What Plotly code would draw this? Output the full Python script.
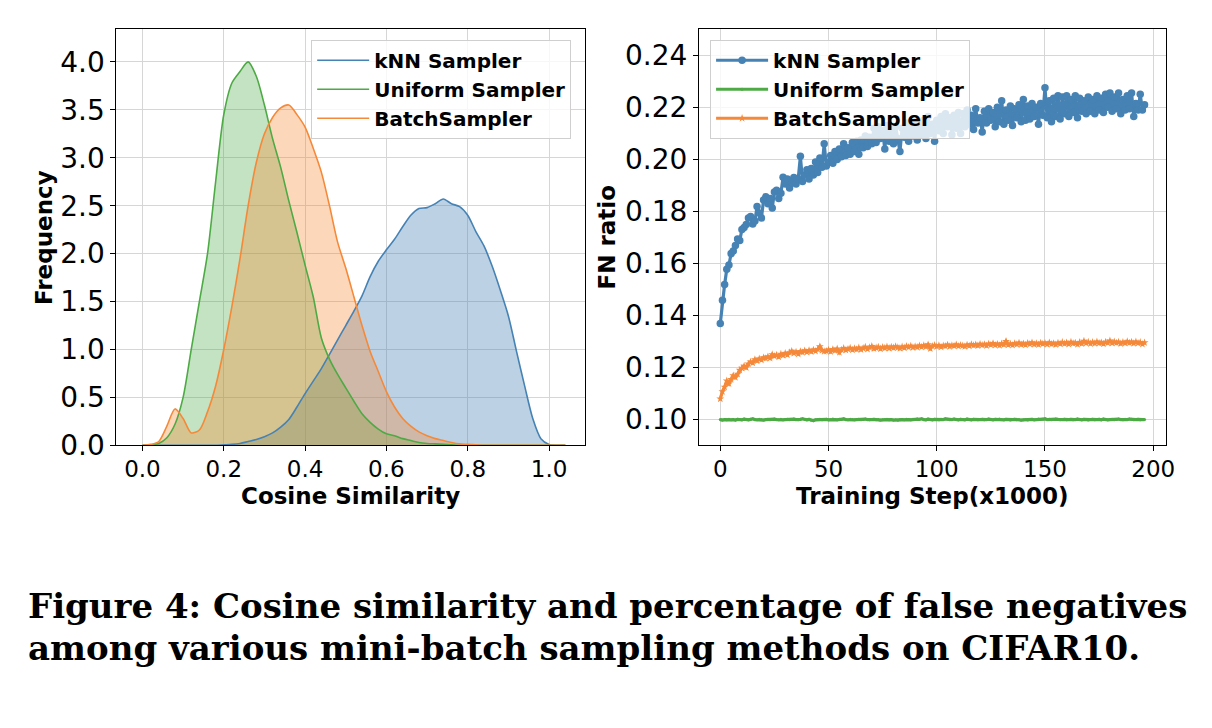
import plotly.graph_objects as go

# ---------------- Left panel: cosine similarity distributions ----------------
COS_X = [0.00, 0.02, 0.04, 0.06, 0.08, 0.10, 0.12, 0.14, 0.16, 0.18,
         0.20, 0.22, 0.24, 0.26, 0.28, 0.30, 0.32, 0.34, 0.36, 0.38,
         0.40, 0.42, 0.44, 0.46, 0.48, 0.50, 0.52, 0.54, 0.56, 0.58,
         0.60, 0.62, 0.64, 0.66, 0.68, 0.70, 0.72, 0.74, 0.76, 0.78,
         0.80, 0.82, 0.84, 0.86, 0.88, 0.90, 0.92, 0.94, 0.96, 0.98,
         1.00, 1.02, 1.04]

KNN_DENS = [0, 0, 0, 0, 0, 0, 0, 0, 0, 0,
            0.005, 0.01, 0.02, 0.04, 0.06, 0.09, 0.13, 0.19, 0.27, 0.40,
            0.54, 0.67, 0.80, 0.95, 1.10, 1.25, 1.40, 1.56, 1.76, 1.92,
            2.04, 2.15, 2.28, 2.40, 2.47, 2.48, 2.52, 2.57, 2.52, 2.49,
            2.40, 2.23, 2.08, 1.87, 1.62, 1.35, 0.98, 0.62, 0.28, 0.07,
            0.01, 0, 0]

UNIFORM_DENS = [0, 0.0, 0.02, 0.08, 0.22, 0.50, 1.00, 1.50, 2.00, 2.75,
                3.45, 3.78, 3.90, 4.00, 3.85, 3.55, 3.20, 2.90, 2.55, 2.22,
                1.88, 1.55, 1.12, 0.90, 0.74, 0.60, 0.46, 0.33, 0.24, 0.17,
                0.12, 0.10, 0.07, 0.05, 0.03, 0.02, 0.015, 0.01, 0.005, 0,
                0, 0, 0, 0, 0, 0, 0, 0, 0, 0,
                0, 0, 0]

BATCH_DENS = [0, 0.01, 0.04, 0.20, 0.38, 0.28, 0.13, 0.16, 0.35, 0.62,
              1.00, 1.45, 1.95, 2.50, 2.95, 3.25, 3.42, 3.52, 3.55, 3.45,
              3.32, 3.10, 2.85, 2.50, 2.12, 1.85, 1.55, 1.25, 0.98, 0.77,
              0.56, 0.40, 0.28, 0.20, 0.14, 0.10, 0.07, 0.05, 0.03, 0.015,
              0.01, 0.005, 0, 0, 0, 0, 0, 0, 0, 0,
              0, 0, 0]

# ---------------- Right panel: FN ratio over training ----------------
STEP_X = list(range(197))

KNN_FN = [0.1369, 0.1459, 0.1519, 0.1578, 0.1594, 0.1638, 0.1648, 0.1669, 0.1694, 0.1688,
          0.1731, 0.1738, 0.1750, 0.1775, 0.1781, 0.1752, 0.1763, 0.1819, 0.1794, 0.1775,
          0.1844, 0.1856, 0.1830, 0.1850, 0.1813, 0.1875, 0.1881, 0.1850, 0.1870, 0.1931,
          0.1905, 0.1925, 0.1890, 0.1910, 0.1930, 0.1905, 0.1925, 0.2012, 0.1915, 0.1940,
          0.1960, 0.1925, 0.1965, 0.1940, 0.1990, 0.1950, 0.2005, 0.1970, 0.2060, 0.1975,
          0.1990, 0.2015, 0.1985, 0.2030, 0.2000, 0.2040, 0.2010, 0.2060, 0.2015, 0.2045,
          0.2020, 0.2065, 0.2030, 0.2070, 0.2020, 0.2075, 0.2045, 0.2090, 0.2050, 0.2085,
          0.2060, 0.2120, 0.2065, 0.2125, 0.2080, 0.2110, 0.2040, 0.2130, 0.2070, 0.2115,
          0.2060, 0.2125, 0.2080, 0.2030, 0.2120, 0.2085, 0.2140, 0.2070, 0.2130, 0.2090,
          0.2145, 0.2075, 0.2140, 0.2095, 0.2150, 0.2080, 0.2165, 0.2100, 0.2135, 0.2070,
          0.2150, 0.2110, 0.2165, 0.2100, 0.2175, 0.2125, 0.2160, 0.2095, 0.2170, 0.2120,
          0.2180, 0.2100, 0.2175, 0.2125, 0.2190, 0.2135, 0.2170, 0.2115, 0.2195, 0.2140,
          0.2160, 0.2105, 0.2185, 0.2140, 0.2195, 0.2150, 0.2180, 0.2125, 0.2200, 0.2145,
          0.2225, 0.2135, 0.2190, 0.2150, 0.2205, 0.2130, 0.2195, 0.2160, 0.2210, 0.2145,
          0.2230, 0.2150, 0.2205, 0.2155, 0.2215, 0.2165, 0.2200, 0.2135, 0.2215, 0.2170,
          0.2275, 0.2160, 0.2225, 0.2145, 0.2235, 0.2165, 0.2245, 0.2155, 0.2240, 0.2175,
          0.2245, 0.2165, 0.2230, 0.2180, 0.2245, 0.2160, 0.2235, 0.2185, 0.2225, 0.2175,
          0.2240, 0.2185, 0.2230, 0.2175, 0.2245, 0.2190, 0.2235, 0.2180, 0.2250, 0.2200,
          0.2255, 0.2185, 0.2240, 0.2195, 0.2255, 0.2175, 0.2230, 0.2190, 0.2245, 0.2195,
          0.2255, 0.2165, 0.2215, 0.2190, 0.2250, 0.2190, 0.2210]

UNIFORM_FN = [0.1000, 0.0998, 0.1000, 0.0999, 0.1001, 0.0999, 0.1000, 0.0998, 0.1001, 0.1000,
              0.0999, 0.1002, 0.1000, 0.0999, 0.1001, 0.1003, 0.1000, 0.0999, 0.1001, 0.1000,
              0.0998, 0.1000, 0.1001, 0.0999, 0.1000, 0.1002, 0.1000, 0.0999, 0.1001, 0.0999,
              0.1000, 0.1001, 0.0999, 0.1000, 0.1002, 0.1000, 0.0999, 0.1001, 0.1003, 0.1000,
              0.0999, 0.1001, 0.0997, 0.0996, 0.0999, 0.1000, 0.1001, 0.0999, 0.1000, 0.1001,
              0.0999, 0.1000, 0.1002, 0.1000, 0.0999, 0.1001, 0.1000, 0.1003, 0.1000, 0.0999,
              0.1001, 0.1000, 0.0999, 0.1000, 0.1001, 0.0999, 0.1000, 0.1002, 0.1000, 0.0999,
              0.1000, 0.1001, 0.0999, 0.1000, 0.0998, 0.0999, 0.1000, 0.1001, 0.0999, 0.1000,
              0.0998, 0.0999, 0.0997, 0.0999, 0.1000, 0.0999, 0.1001, 0.1000, 0.0999, 0.1001,
              0.1000, 0.1002, 0.1001, 0.1003, 0.1000, 0.0999, 0.1002, 0.1000, 0.0999, 0.1001,
              0.1000, 0.0999, 0.1001, 0.1000, 0.1003, 0.1001, 0.0999, 0.1000, 0.1002, 0.1000,
              0.0999, 0.1001, 0.1000, 0.0999, 0.1002, 0.1000, 0.0999, 0.1001, 0.1000, 0.0999,
              0.1000, 0.1001, 0.0999, 0.1000, 0.1002, 0.1000, 0.0999, 0.1001, 0.1000, 0.1002,
              0.1000, 0.0999, 0.1001, 0.1000, 0.0998, 0.1000, 0.1001, 0.0999, 0.1000, 0.0998,
              0.0999, 0.1000, 0.0998, 0.1000, 0.1001, 0.0999, 0.1000, 0.1002, 0.1000, 0.1001,
              0.1003, 0.1000, 0.1001, 0.0999, 0.1000, 0.1002, 0.1001, 0.0999, 0.1000, 0.1001,
              0.0999, 0.1000, 0.1001, 0.0999, 0.1000, 0.1002, 0.1000, 0.0999, 0.1001, 0.1000,
              0.0998, 0.1000, 0.1001, 0.0999, 0.1000, 0.1001, 0.0999, 0.1002, 0.1000, 0.0999,
              0.1000, 0.1001, 0.0999, 0.1000, 0.1002, 0.1000, 0.0999, 0.1001, 0.1000, 0.1002,
              0.1001, 0.0999, 0.1000, 0.1001, 0.0999, 0.1000, 0.1000]

BATCH_FN = [0.1080, 0.1108, 0.1125, 0.1149, 0.1138, 0.1155, 0.1169, 0.1162, 0.1175, 0.1190,
            0.1198, 0.1206, 0.1200, 0.1214, 0.1222, 0.1218, 0.1231, 0.1226, 0.1234, 0.1229,
            0.1238, 0.1235, 0.1242, 0.1236, 0.1250, 0.1244, 0.1248, 0.1241, 0.1252, 0.1247,
            0.1255, 0.1249, 0.1258, 0.1263, 0.1255, 0.1260, 0.1252, 0.1262, 0.1258, 0.1265,
            0.1259, 0.1266, 0.1261, 0.1268, 0.1263, 0.1270, 0.1281, 0.1266, 0.1262, 0.1263,
            0.1268, 0.1261, 0.1270, 0.1265, 0.1272, 0.1258, 0.1268, 0.1274, 0.1267, 0.1271,
            0.1275, 0.1268, 0.1273, 0.1270, 0.1276, 0.1269, 0.1274, 0.1279, 0.1271, 0.1277,
            0.1282, 0.1273, 0.1276, 0.1279, 0.1272, 0.1278, 0.1275, 0.1280, 0.1274, 0.1279,
            0.1276, 0.1281, 0.1277, 0.1274, 0.1280, 0.1276, 0.1282, 0.1278, 0.1283, 0.1277,
            0.1281, 0.1278, 0.1284, 0.1279, 0.1285, 0.1280, 0.1288, 0.1273, 0.1282, 0.1286,
            0.1281, 0.1285, 0.1279, 0.1284, 0.1282, 0.1287, 0.1281, 0.1285, 0.1283, 0.1288,
            0.1282, 0.1286, 0.1284, 0.1281, 0.1287, 0.1283, 0.1289, 0.1285, 0.1288, 0.1284,
            0.1290, 0.1286, 0.1289, 0.1284, 0.1291, 0.1287, 0.1293, 0.1286, 0.1290, 0.1285,
            0.1292, 0.1288, 0.1301, 0.1287, 0.1291, 0.1286, 0.1293, 0.1289, 0.1295, 0.1288,
            0.1292, 0.1287, 0.1294, 0.1290, 0.1296, 0.1289, 0.1293, 0.1288, 0.1295, 0.1291,
            0.1294, 0.1289, 0.1296, 0.1290, 0.1293, 0.1288, 0.1295, 0.1291, 0.1297, 0.1292,
            0.1296, 0.1290, 0.1298, 0.1293, 0.1295, 0.1289, 0.1297, 0.1292, 0.1302, 0.1294,
            0.1298, 0.1292, 0.1297, 0.1293, 0.1299, 0.1294, 0.1296, 0.1291, 0.1298, 0.1295,
            0.1303, 0.1294, 0.1299, 0.1295, 0.1298, 0.1292, 0.1297, 0.1294, 0.1300, 0.1295,
            0.1298, 0.1293, 0.1299, 0.1294, 0.1297, 0.1290, 0.1296]

SERIES_NAMES = ["kNN Sampler", "Uniform Sampler", "BatchSampler"]

COS_TICKS = [0.0, 0.2, 0.4, 0.6, 0.8, 1.0]
FREQ_TICKS = [0.0, 0.5, 1.0, 1.5, 2.0, 2.5, 3.0, 3.5, 4.0]
STEP_TICKS = [0, 50, 100, 150, 200]
FN_TICKS = [0.10, 0.12, 0.14, 0.16, 0.18, 0.20, 0.22, 0.24]

CAPTION_1 = "Figure 4: Cosine similarity and percentage of false negatives"
CAPTION_2 = "among various mini-batch sampling methods on CIFAR10."

# ---------------- styling ----------------
W, H = 1212, 728
BLUE, GREEN, ORANGE = "#4682b4", "#4daa45", "#f5893a"
FILLS = ["rgba(70,130,180,0.36)", "rgba(77,170,69,0.33)", "rgba(250,130,40,0.32)"]
LINES = [BLUE, GREEN, ORANGE]
GROUPS = ["g1", "g2", "g3"]
SANS = "DejaVu Sans"

fig = go.Figure()

dens = [KNN_DENS, UNIFORM_DENS, BATCH_DENS]
# histogram-like filled areas
for d, fc in zip(dens, FILLS):
    fig.add_trace(go.Scatter(x=COS_X, y=d, mode="lines", fill="tozeroy", fillcolor=fc,
                             line=dict(width=0, shape="spline", smoothing=0.8),
                             showlegend=False, hoverinfo="skip", xaxis="x", yaxis="y"))
# KDE lines
for d, name, c, g in zip(dens, SERIES_NAMES, LINES, GROUPS):
    fig.add_trace(go.Scatter(x=COS_X, y=d, mode="lines", name=name, legendgroup="L" + g,
                             line=dict(color=c, width=1.6, shape="spline", smoothing=0.8),
                             legend="legend", xaxis="x", yaxis="y"))

fn_data = [KNN_FN, UNIFORM_FN, BATCH_FN]
markers = [dict(symbol="circle", size=7.5), dict(symbol="circle", size=3), dict(symbol="star", size=6)]
for d, name, c, g, m in zip(fn_data, SERIES_NAMES, LINES, GROUPS, markers):
    fig.add_trace(go.Scatter(x=STEP_X, y=d, mode="lines+markers", name=name, legendgroup="R" + g,
                             line=dict(color=c, width=3.2), marker=dict(color=c, **m),
                             legend="legend2", xaxis="x2", yaxis="y2"))

ytop, ybot = 1 - 30 / H, 1 - 456 / H
axis_common = dict(showline=True, linecolor="black", linewidth=1.2, mirror=True,
                   ticks="outside", ticklen=5, tickwidth=1.2, tickcolor="black",
                   showgrid=True, gridcolor="#d6d6d6", gridwidth=1.2, zeroline=False)
xfont = dict(family=SANS, size=23, color="black")
yfont = dict(family=SANS, size=28, color="black")
leg_common = dict(xanchor="left", yanchor="top", bgcolor="rgba(255,255,255,0.8)",
                  bordercolor="#cfcfcf", borderwidth=1, itemwidth=52, tracegroupgap=0,
                  font=dict(family=SANS, size=20, color="black", weight="bold"))

fig.update_layout(
    width=W, height=H, autosize=False,
    margin=dict(l=0, r=0, t=0, b=0),
    paper_bgcolor="white", plot_bgcolor="white",
    font=dict(family=SANS, color="black"),
    xaxis=dict(domain=[117.3 / W, 589.6 / W], range=[-0.064, 1.089], tickfont=xfont,
               ticklabelstandoff=-2,
               tickvals=COS_TICKS, tickformat=".1f", anchor="y", **axis_common),
    yaxis=dict(domain=[ybot, ytop], range=[0, 4.34], tickfont=yfont,
               tickvals=FREQ_TICKS, tickformat=".1f", anchor="x", **axis_common),
    xaxis2=dict(domain=[704.3 / W, 1174.5 / W], range=[-9.8, 205.8], tickfont=xfont,
                ticklabelstandoff=-2,
                tickvals=STEP_TICKS, anchor="y2", **axis_common),
    yaxis2=dict(domain=[ybot, ytop], range=[0.0901, 0.25], tickfont=yfont,
                tickvals=FN_TICKS, tickformat=".2f", anchor="x2", **axis_common),
    legend=dict(x=313.5 / W, y=1 - 40.7 / H, **leg_common),
    legend2=dict(x=715.4 / W, y=1 - 40.7 / H, **leg_common),
)

title_font = dict(family=SANS, size=23, color="black", weight="bold")
ann = [
    dict(text="Cosine Similarity", x=353.5 / W, y=1 - 508 / H, xanchor="center", yanchor="middle"),
    dict(text="Training Step(x1000)", x=939.4 / W, y=1 - 508 / H, xanchor="center", yanchor="middle"),
    dict(text="Frequency", x=45 / W, y=1 - 243 / H, xanchor="center", yanchor="middle", textangle=-90),
    dict(text="FN ratio", x=611.7 / W, y=1 - 243 / H, xanchor="center", yanchor="middle", textangle=-90),
]
for a in ann:
    fig.add_annotation(xref="paper", yref="paper", showarrow=False, font=title_font, **a)

cap_font = dict(family="DejaVu Serif", size=34, color="black", weight="bold")
fig.add_annotation(text=CAPTION_1, xref="paper", yref="paper", x=26 / W, y=1 - 620 / H,
                   xanchor="left", yanchor="middle", showarrow=False, font=cap_font)
fig.add_annotation(text=CAPTION_2, xref="paper", yref="paper", x=26 / W, y=1 - 663 / H,
                   xanchor="left", yanchor="middle", showarrow=False, font=cap_font)

fig.write_html("out.html", config={"displayModeBar": False},
               post_script="document.body.style.margin='0';document.body.style.overflow='hidden';")
